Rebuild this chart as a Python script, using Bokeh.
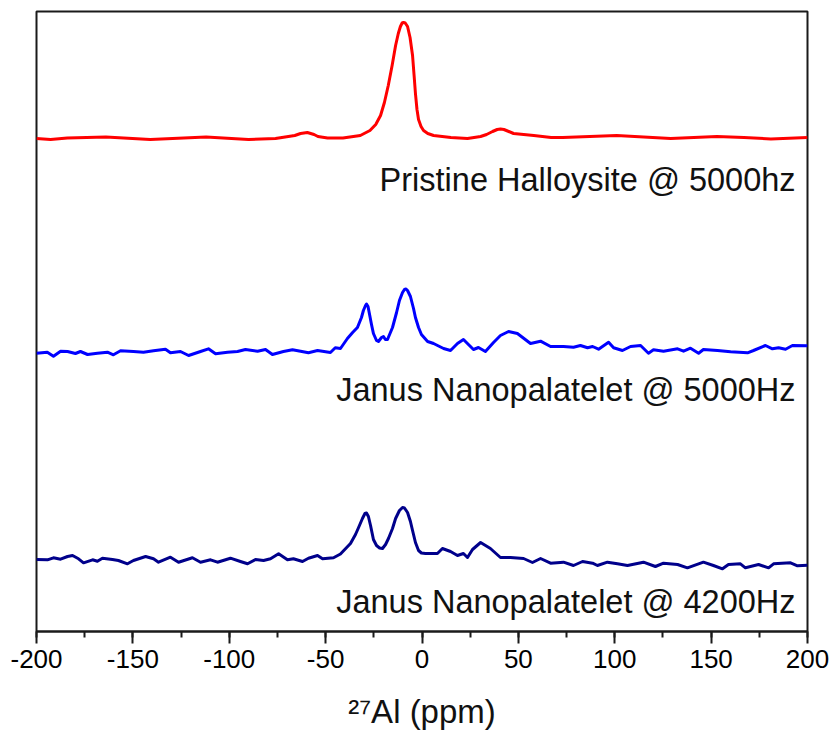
from bokeh.plotting import figure
from bokeh.models import Range1d, SingleIntervalTicker, Label
from bokeh.embed import file_html
from bokeh.resources import INLINE

# ---- data ----
series_names = ["Pristine Halloysite @ 5000hz",
                "Janus Nanopalatelet @ 5000Hz",
                "Janus Nanopalatelet @ 4200Hz"]
series_colors = ["#FF0000", "#0000FF", "#00008B"]

red_ppm = [-200, -192.7, -184, -164, -141, -112, -90, -76, -66, -63, -59.5, -56, -54, -49, -41, -32, -27, -24,
           -21.5, -19.5, -17.5, -15.5, -13.7, -12.3, -11.2, -10.3, -9.6, -8.7, -7.5, -6.2, -4.9, -4.1, -3.4,
           -2.6, -1.8, -0.5, 0.8, 3, 6, 15, 23.6, 30.4, 33.5, 36.6, 39, 40.7, 42.5, 44.4, 47.5, 58, 67, 73, 87,
           101, 115, 129, 141, 153, 167, 181, 200]
red_int = [493, 492, 493.5, 494.5, 492, 494.5, 492, 493, 496, 498, 499, 497, 495, 493.5, 493.5, 496, 501, 507,
           516, 529, 546, 566, 586, 598, 605, 608.5, 609, 608.5, 605, 594, 576, 556, 538,
           522, 512, 505, 501, 498, 496, 494, 493, 495, 497, 500, 502, 502.5, 502, 500.5, 498, 496, 494, 494, 495,
           496, 494.5, 493, 494, 495, 494, 492.5, 494]

blue_ppm = [-200, -194.4, -191.2, -187.5, -183.9, -179.8, -177.2, -173.5, -168.4, -163.2, -160.1, -156.4, -149.7,
            -144.5, -139.3, -133.1, -130.5, -125.3, -121.1, -114.9, -110.8, -107.1, -100.9, -95.7, -91.6, -85.3,
            -81.2, -77.6, -71.9, -67.2, -63, -58.9, -54.2, -47.5, -45, -42.3, -38.7, -36, -33.5, -31.4, -30.4,
            -29.3, -28.8, -28, -27.3, -26.2, -25.2, -23.6, -22.6, -21, -20, -19, -17.9, -15.3, -13.2, -11.7,
            -10.1, -9.1, -8.3, -7.5, -6, -4.4, -3.4, -1.8, -0.3, 2.9, 6, 11.2, 14.8, 18.4, 21.5,
            26.7, 29.3, 32.9, 37.1, 40.7, 44.9, 49.5, 56.3, 61.5, 66.7, 73.4, 78.6, 82.2, 85.9, 88.5, 91.6, 96.8,
            99.4, 104, 108.2, 113.4, 117.5, 120.1, 125.3, 132.6, 135.7, 139.3, 143.5, 146, 153.3, 160.1, 168.9,
            172, 178.2, 181.8, 185, 188.6, 192.2, 200]
blue_int = [278.3, 279.3, 275.3, 280.3, 280, 278, 280, 277, 278.3, 279.3, 276.7, 280.7, 280,
            279.3, 280.7, 282.3, 278.7, 280, 276, 280, 282.7, 277.7, 279.3, 280, 282, 280.3,
            282, 277, 280, 281.7, 280.3, 278.7, 281, 279, 283.7, 283, 293, 299, 304, 314, 321,
            326, 327.5, 325, 318, 307, 298, 291, 290, 294, 295, 292, 292, 304, 319, 331,
            339, 342, 342.5, 341, 335, 323, 314, 304, 297, 290, 288, 283, 281, 288, 292,
            282, 284, 280, 289, 296, 300, 298, 288, 290.3, 285, 285, 284.3, 286, 283.7, 285, 282.3, 289.3,
            283.7, 281, 285, 286, 278.3, 281.7, 280.3, 282.7, 280.3, 283.3, 278.3, 282, 281, 279.7, 278.7,
            281, 286, 282.7, 283.7, 282.3, 286, 285.7]

navy_ppm = [-200, -194.3, -191.2, -187.5, -183.9, -181.3, -178.2, -175.6, -170.9, -168.4, -165.8, -160.6, -157.5,
            -152.8, -149.7, -143.4, -139.3, -136.7, -130.5, -126.3, -119.1, -114.9, -109.7, -106.1, -99.4, -94.2,
            -90.5, -86.4, -82.2, -78.6, -74.4, -69.8, -66.7, -62, -58.9, -54.2, -51.6, -45.9, -42.3, -37.1, -34.5,
            -32.9, -30.9, -29.6, -28.8, -27.8, -26.7, -25.2, -23.6, -22, -20.5, -18.9, -17.4, -15.3, -13.7, -11.7,
            -10.1, -9.1, -7.5, -6, -4.9, -3.4, -1.8, -0.3, 1.8, 8, 10.6, 14.8, 18.4,
            21.5, 23.6, 26.2, 30.4, 35.5, 40.7, 45.9, 52.7, 57.3, 61.5, 66.7, 73.4, 78.6, 83.3, 88.5, 91, 96.2,
            101.4, 106.6, 114.9, 121.1, 125.3, 132.6, 137.7, 146, 151.2, 155.9, 159, 165.2, 167.8, 174.6, 179.8,
            182.4, 191.2, 194.8, 200]
navy_int = [72, 71.7, 73.7, 72.3, 75, 76, 72.7, 68.7, 71.7, 70.3, 73.3, 72, 71,
            67.7, 71, 75, 72.7, 69.3, 74.3, 69.3, 73.7, 69.3, 71.7, 69.3, 73.3, 70,
            67.7, 72, 71, 72.7, 77.7, 71.7, 72.7, 70, 73.3, 76, 72.7, 73.7, 77.5, 88, 97,
            104, 113, 118, 118.5, 115, 106, 92, 86, 83.5, 83, 87, 93, 103, 113, 121,
            124, 123.5, 119, 110, 101, 89, 81, 78.5, 78, 78, 83, 80, 76,
            78, 74, 82, 89, 83, 74, 74, 73, 69, 73, 68.3, 69.3, 66, 70, 68.3, 66, 69.3,
            67.7, 66, 69.3, 65, 68.3, 67, 63.7, 69.3, 66, 62.7, 67, 67.7, 63.7, 67, 63.7,
            67.7, 68.7, 65.7, 66.3]

tick_values = [-200, -150, -100, -50, 0, 50, 100, 150, 200]
tick_labels = ["-200", "-150", "-100", "-50", "0", "50", "100", "150", "200"]
x_title = "\u00b2\u2077Al (ppm)"

FONT = "Liberation Sans"

p = figure(width=832, height=734,
           x_range=Range1d(-200, 200), y_range=Range1d(0, 620),
           output_backend="svg", toolbar_location=None,
           min_border_left=36, min_border_right=25, min_border_top=11, min_border_bottom=103)
p.background_fill_color = "white"
p.border_fill_color = "white"
p.grid.visible = False
p.yaxis.visible = False
p.outline_line_color = "#1a1a1a"
p.outline_line_width = 2
p.outline_line_alpha = 1.0

ax = p.xaxis[0]
ax.ticker = SingleIntervalTicker(interval=50, num_minor_ticks=2)
ax.major_label_overrides = {v: s for v, s in zip(tick_values, tick_labels)}
ax.major_label_text_font = FONT
ax.major_label_text_font_size = "26px"
ax.major_label_text_color = "black"
ax.major_tick_in = 0
ax.major_tick_out = 12
ax.minor_tick_in = 0
ax.minor_tick_out = 6
ax.major_tick_line_width = 2
ax.minor_tick_line_width = 2
ax.major_tick_line_color = "#1a1a1a"
ax.minor_tick_line_color = "#1a1a1a"
ax.axis_line_width = 2
ax.axis_line_color = "#1a1a1a"
ax.major_label_standoff = 6
ax.axis_label = x_title
ax.axis_label_text_font = FONT
ax.axis_label_text_font_size = "33px"
ax.axis_label_text_font_style = "normal"
ax.axis_label_text_color = "#111111"
ax.axis_label_standoff = 22

for xs, ys, col in [(red_ppm, red_int, series_colors[0]),
                    (blue_ppm, blue_int, series_colors[1]),
                    (navy_ppm, navy_int, series_colors[2])]:
    p.line(xs, ys, line_color=col, line_width=3, line_join="round")

label_y = [452, 242, 30]
for name, ly in zip(series_names, label_y):
    p.add_layout(Label(x=193.8, y=ly, text=name, text_align="right", text_baseline="alphabetic",
                       text_font=FONT, text_font_size="32.5px", text_color="#111111"))

open("out.html", "w").write(file_html(p, INLINE))
